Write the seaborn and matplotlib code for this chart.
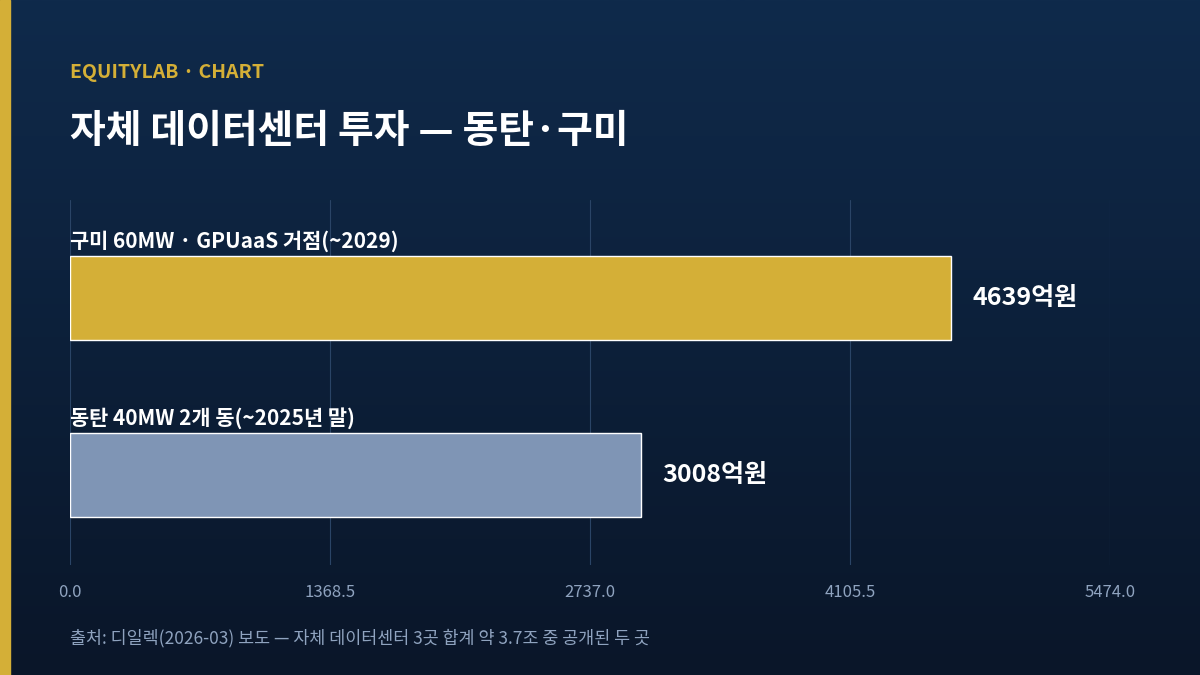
import numpy as np
import matplotlib
matplotlib.use("Agg")
import matplotlib.pyplot as plt
import seaborn as sns
import pandas as pd

categories = ["구미 60MW · GPUaaS 거점(~2029)", "동탄 40MW 2개 동(~2025년 말)"]
values = [4639, 3008]
value_labels = ["4639억원", "3008억원"]
ticks = [0.0, 1368.5, 2737.0, 4105.5, 5474.0]
colors = ["#d4af37", "#7f95b5"]

sns.set_theme(style="white")
plt.rcParams['font.family'] = ['Noto Sans CJK KR', 'DejaVu Sans']

fig = plt.figure(figsize=(12, 6.75), dpi=100)
bg = fig.add_axes([0, 0, 1, 1])
grad = np.linspace(0, 1, 256).reshape(-1, 1)
from matplotlib.colors import LinearSegmentedColormap
cmap = LinearSegmentedColormap.from_list("bg", ["#0f2a4b", "#0a1629"])
bg.imshow(grad, aspect="auto", cmap=cmap, extent=[0, 1, 0, 1], origin="upper")
bg.axis("off")
bg.add_patch(plt.Rectangle((0, 0), 10/1200, 1, color="#d4af37", transform=bg.transAxes))

ax = fig.add_axes([70/1200, 1-565/675, 1040/1200, 365/675])
ax.patch.set_alpha(0)
df = pd.DataFrame({"cat": categories, "val": values})
sns.barplot(data=df, y="cat", x="val", hue="cat", palette=colors, orient="h",
            width=0.475, ax=ax, legend=False, saturation=1)
ax.set_xlim(0, 5474)
ax.set_ylim(1.508, -0.554)
ax.set_xticks(ticks)
ax.set_xticklabels([f"{t:.1f}" for t in ticks], color="#8fa3bf", fontsize=12)
ax.set_yticks([])
ax.set_xlabel(""); ax.set_ylabel("")
for s in ax.spines.values():
    s.set_visible(False)
ax.tick_params(axis="x", length=0, pad=14)
ax.grid(axis="x", color="#2a4466", linewidth=0.8)
ax.set_axisbelow(True)
for i, (c, v, lbl) in enumerate(zip(categories, values, value_labels)):
    ax.text(0, i - 0.26, c, ha="left", va="bottom", fontsize=15, fontweight="bold", color="white")
    ax.annotate(lbl, (v, i), xytext=(15, 0), textcoords="offset points", ha="left", va="center",
                fontsize=18, fontweight="bold", color="white")

fig.text(70/1200, 1-72/675, "EQUITYLAB · CHART", color="#d4af37", fontsize=14, fontweight="bold", va="center")
fig.text(70/1200, 1-132/675, "자체 데이터센터 투자 — 동탄·구미", color="white", fontsize=28, fontweight="bold", va="center")
fig.text(70/1200, 1-638/675, "출처: 디일렉(2026-03) 보도 — 자체 데이터센터 3곳 합계 약 3.7조 중 공개된 두 곳",
         color="#8fa3bf", fontsize=12.5, va="center")
fig.savefig("out.png", dpi=100)
